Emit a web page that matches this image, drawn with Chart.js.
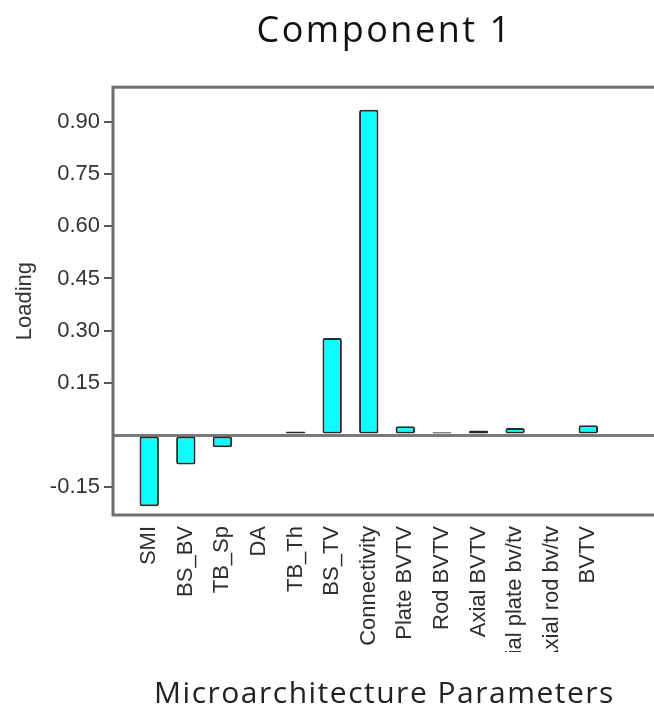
<!DOCTYPE html>
<html>
<head>
<meta charset="utf-8">
<title>Component 1</title>
<script src="https://cdn.jsdelivr.net/npm/chart.js@4.4.1/dist/chart.umd.min.js"></script>
<style>
  html, body { margin: 0; padding: 0; background: #fff; overflow: hidden; }
  #wrap { width: 662px; height: 716px; }
</style>
</head>
<body>
<div id="wrap"><canvas id="loadingChart" width="662" height="716"></canvas></div>
<script>
const parameters = [
  "SMI", "BS_BV", "TB_Sp", "DA", "TB_Th", "BS_TV", "Connectivity",
  "Plate BVTV", "Rod BVTV", "Axial BVTV", "Axial plate bv/tv", "Axial rod bv/tv", "BVTV"
];
const loadings = [-0.205, -0.085, -0.035, 0, 0.01, 0.279, 0.935, 0.025, 0.008, 0.013, 0.02, 0, 0.028];
const yTicks = [-0.15, 0, 0.15, 0.30, 0.45, 0.60, 0.75, 0.90];

const isZero = (v) => Math.abs(v) < 1e-9;

// box round the plot
const framePlugin = {
  id: "frame",
  afterDatasetsDraw(chart) {
    const { ctx, chartArea: a } = chart;
    ctx.save();
    ctx.strokeStyle = "#6e6e6e";
    ctx.lineWidth = 3;
    ctx.strokeRect(a.left, a.top, a.right - a.left, a.bottom - a.top);
    ctx.restore();
  },
};

// run one of chart.js's own draw steps with some extra canvas state
function wrapDraw(obj, method, setup) {
  const orig = obj[method];
  obj[method] = function (...args) {
    const ctx = this.ctx;
    ctx.save();
    setup(ctx);
    orig.apply(this, args);
    ctx.restore();
  };
}

const tickFont = { family: "'Liberation Sans', Arial, sans-serif", size: 22 };

const chart = new Chart(document.getElementById("loadingChart"), {
  type: "bar",
  data: {
    datasets: [
      {
        label: "Loading",
        data: parameters.map((p, i) => ({ x: i, y: loadings[i] })),
        backgroundColor: "#0cffff",
        borderColor: "#2a2a2a",
        borderWidth: 2,
        borderSkipped: false,
        borderRadius: 2,
        barPercentage: 0.53,
        categoryPercentage: 1,
      },
    ],
  },
  options: {
    responsive: false,
    devicePixelRatio: 1,
    animation: false,
    layout: { padding: { left: 0, right: 6, top: 0, bottom: 0 } },
    plugins: {
      legend: { display: false },
      tooltip: { enabled: false },
      title: {
        display: true,
        fullSize: false,
        text: "Component 1",
        color: "#111",
        font: { family: "'Open Sans', sans-serif", size: 36, weight: "normal", lineHeight: 1.2 },
        padding: { top: 10, bottom: 34 },
      },
    },
    scales: {
      x: {
        type: "linear",
        offset: false,
        min: -0.99,
        max: 13.85,
        afterBuildTicks: (axis) => {
          axis.ticks = parameters.map((p, i) => ({ value: i }));
        },
        afterFit: (axis) => {
          axis.height = 201;
        },
        grid: { display: false },
        border: { display: false },
        ticks: {
          autoSkip: false,
          minRotation: 90,
          maxRotation: 90,
          padding: 3,
          color: "#2e2e2e",
          font: tickFont,
          callback: (v) => parameters[v],
        },
        title: {
          display: true,
          text: "Microarchitecture Parameters",
          color: "#222",
          font: { family: "'Open Sans', sans-serif", size: 30, lineHeight: 1.2 },
          padding: { top: 0, bottom: 4 },
        },
      },
      y: {
        min: -0.23,
        max: 1.0,
        afterBuildTicks: (axis) => {
          axis.ticks = yTicks.map((v) => ({ value: v }));
        },
        afterFit: (axis) => {
          axis.width = 113;
        },
        border: { display: false },
        grid: {
          drawOnChartArea: true,
          color: (c) => (c.tick && isZero(c.tick.value) ? "#7a7a7a" : "rgba(0,0,0,0)"),
          lineWidth: (c) => (c.tick && isZero(c.tick.value) ? 3 : 2),
          tickColor: (c) => (c.tick && isZero(c.tick.value) ? "rgba(0,0,0,0)" : "#555"),
          tickWidth: 2,
          tickLength: 9,
        },
        ticks: {
          padding: 4,
          color: "#333",
          font: tickFont,
          callback: (v) => (isZero(v) ? "" : v.toFixed(2)),
        },
        title: {
          display: true,
          text: "Loading",
          color: "#333",
          font: { family: "'Liberation Sans', Arial, sans-serif", size: 22, lineHeight: 1.2 },
          padding: { top: 12, bottom: 0 },
        },
      },
    },
  },
  plugins: [framePlugin],
});

// titles in the source are wide; long labels are cut off at the bottom
wrapDraw(chart.titleBlock, "draw", (ctx) => { ctx.letterSpacing = "2.5px"; });
wrapDraw(chart.scales.x, "drawTitle", (ctx) => { ctx.letterSpacing = "1.5px"; });
wrapDraw(chart.scales.x, "drawLabels", (ctx) => {
  ctx.beginPath();
  ctx.rect(0, 0, chart.width, 652);
  ctx.clip();
});
chart.draw();
</script>
</body>
</html>
